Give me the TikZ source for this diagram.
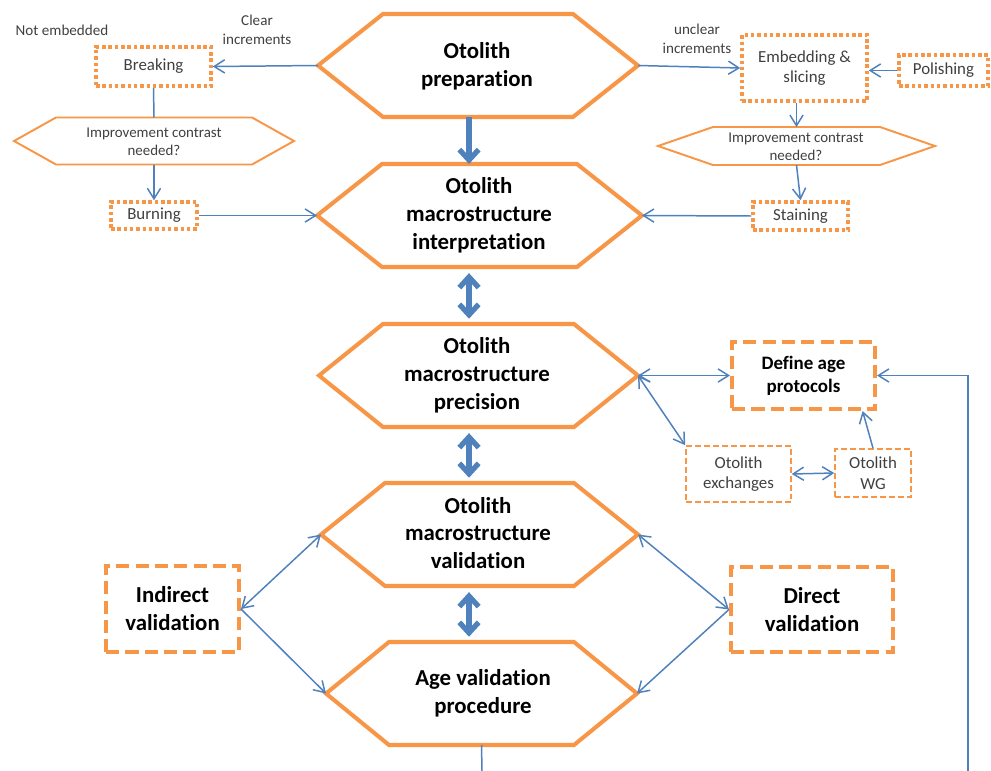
\documentclass[tikz,border=0pt]{standalone}
\usepackage{fontspec}
\setmainfont[Ligatures=NoCommon]{Carlito}
\usetikzlibrary{arrows.meta}

\definecolor{flowOrange}{HTML}{F79646}
\definecolor{flowBlue}{HTML}{4F81BD}
\definecolor{flowText}{HTML}{404040}

% hexagon drawn as a path: style, name, centre x, centre y, half width, inset, half height
\newcommand{\hexa}[7]{%
  \draw[#1] (#3-#5,#4) coordinate (#2-w) -- (#3-#5+#6,#4-#7) -- (#3+#5-#6,#4-#7)
    -- (#3+#5,#4) coordinate (#2-e) -- (#3+#5-#6,#4+#7) -- (#3-#5+#6,#4+#7) -- cycle;
  \coordinate (#2-n) at (#3,#4-#7);
  \coordinate (#2-s) at (#3,#4+#7);
}

\begin{document}
\begin{tikzpicture}[x=0.02cm, y=-0.02cm,
	hexmain/.style={draw=flowOrange, line width=2.3pt},
	hexsmall/.style={draw=flowOrange, line width=1.1pt},
	hextxt/.style={font=\bfseries\fontsize{13}{15.9}\selectfont, align=center, text=black},
	asktxt/.style={font=\fontsize{8.5}{10.4}\selectfont, align=center, text=flowText},
	note/.style={font=\fontsize{8.6}{10.5}\selectfont, align=center, text=flowText},
	dotbox/.style={draw=flowOrange, line width=2pt, dash pattern=on 2pt off 1.6pt, font=\fontsize{9.6}{11.7}\selectfont, align=center, text=flowText},
	dashbox/.style={draw=flowOrange, line width=2.3pt, dash pattern=on 7.5pt off 3.5pt, font=\bfseries\fontsize{13}{15.9}\selectfont, align=center, text=black},
	thinbox/.style={draw=flowOrange, line width=0.9pt, dash pattern=on 3.4pt off 1.7pt, font=\fontsize{9.6}{11.7}\selectfont, align=center, text=flowText},
	con/.style={draw=flowBlue, line width=0.85pt},
	arr/.style={con, -{Straight Barb[length=6pt,width=7.5pt]}},
	darr/.style={con, {Straight Barb[length=6pt,width=7.5pt]}-{Straight Barb[length=6pt,width=7.5pt]}},
	fat/.style={draw=flowBlue, line width=3pt, -{Straight Barb[length=6pt,width=11pt]}},
	fatd/.style={fat, {Straight Barb[length=6pt,width=11pt]}-{Straight Barb[length=6pt,width=11pt]}, shorten <=3.5pt, shorten >=3pt}]

	\def\pxl{0.02cm}
	\useasboundingbox (0,0) rectangle (991,771);

	% main column
	\hexa{hexmain}{prep}{478}{65.5}{160}{65}{51.5}
	\hexa{hexmain}{interp}{479.5}{215.5}{162.5}{65}{51.5}
	\hexa{hexmain}{prec}{478.5}{375.5}{159.5}{64}{51.5}
	\hexa{hexmain}{valid}{479.5}{534.5}{158.5}{64}{51.5}
	\hexa{hexmain}{age}{481.5}{693.5}{155.5}{63}{51.5}

	\node[hextxt] (prep) at (477,66) {Otolith\\preparation};
	\node[hextxt] (interp) at (479,215) {Otolith\\macrostructure\\interpretation};
	\node[hextxt] (prec) at (477,375) {Otolith\\macrostructure\\precision};
	\node[hextxt] (valid) at (478,533) {Otolith\\macrostructure\\validation};
	\node[hextxt] (age) at (483,693) {Age validation\\procedure};

	% left branch
	\node[note] (notemb) at (62,30) {Not embedded};
	\node[note] (clear) at (257,30) {Clear\\increments};
	\node[dotbox, minimum width=115*\pxl, minimum height=39*\pxl] (breaking) at (153.5,66.5) {Breaking};
	\hexa{hexsmall}{askL}{154}{141}{140}{42}{23.5}
	\node[asktxt] (askLtxt) at (154,142) {Improvement contrast\\needed?};
	\node[dotbox, minimum width=86*\pxl, minimum height=27*\pxl] (burning) at (154,215.5) {Burning};

	% right branch
	\node[note] (unclear) at (697,39) {unclear\\increments};
	\node[dotbox, minimum width=125*\pxl, minimum height=66*\pxl] (embed) at (804.5,68) {Embedding \&\\slicing};
	\node[dotbox, minimum width=89*\pxl, minimum height=31*\pxl] (polish) at (943.5,70.5) {Polishing};
	\hexa{hexsmall}{askR}{796.5}{146}{138.5}{55}{19}
	\node[asktxt] (askRtxt) at (796,147) {Improvement contrast\\needed?};
	\node[dotbox, minimum width=95*\pxl, minimum height=28*\pxl] (staining) at (800.5,216) {Staining};

	% precision side
	\node[dashbox, font=\bfseries\fontsize{10.8}{13.2}\selectfont, minimum width=143*\pxl, minimum height=67*\pxl] (define) at (803.5,375.5) {Define age\\protocols};
	\node[thinbox, minimum width=105*\pxl, minimum height=56*\pxl] (exch) at (738.5,474) {Otolith\\exchanges};
	\node[thinbox, minimum width=76*\pxl, minimum height=48*\pxl] (wg) at (873,473) {Otolith\\WG};

	% validation sides
	\node[dashbox, minimum width=133*\pxl, minimum height=86*\pxl] (indirect) at (172.5,609) {Indirect\\validation};
	\node[dashbox, minimum width=162*\pxl, minimum height=85*\pxl] (direct) at (812,609.5) {Direct\\validation};

	\coordinate (spine) at (469,0);
	\coordinate (bottomL) at (482,771);
	\coordinate (bottomR) at (968,771);

	% connectors
	\draw[arr] (prep-w) -- (breaking.east);
	\draw[con] (breaking.south) -- (askL-n);
	\draw[arr] (askL-s) -- (burning.north);
	\draw[arr] (burning.east) -- (interp-w);
	\draw[arr] (prep-e) -- (embed.west);
	\draw[arr] (polish.west) -- (polish.west -| embed.east);
	\draw[arr] (embed.south -| askR-n) -- (askR-n);
	\draw[arr] (askR-s) -- (staining.north);
	\draw[arr] (staining.west) -- (interp-e);

	\draw[fat] (prep-s -| spine) -- (interp-n -| spine);
	\draw[fatd] (interp-s -| spine) -- (prec-n -| spine);
	\draw[fatd] (prec-s -| spine) -- (valid-n -| spine);
	\draw[fatd] (valid-s -| spine) -- (age-n -| spine);

	\draw[darr] (prec-e) -- (define.west);
	\draw[darr] (prec-e) -- (exch.north west);
	\draw[darr] (exch.east) -- (wg.west);
	\draw[arr] (wg.north) -- (define.-31);

	\draw[darr] (valid-w) -- (indirect.east);
	\draw[arr] (indirect.east) -- (age-w);
	\draw[darr] (valid-e) -- (direct.west);
	\draw[arr] (direct.west) -- (age-e);

	\draw[con] (age-s) -- (bottomL);
	\draw[arr] (bottomR) |- (define.east);

\end{tikzpicture}
\end{document}
